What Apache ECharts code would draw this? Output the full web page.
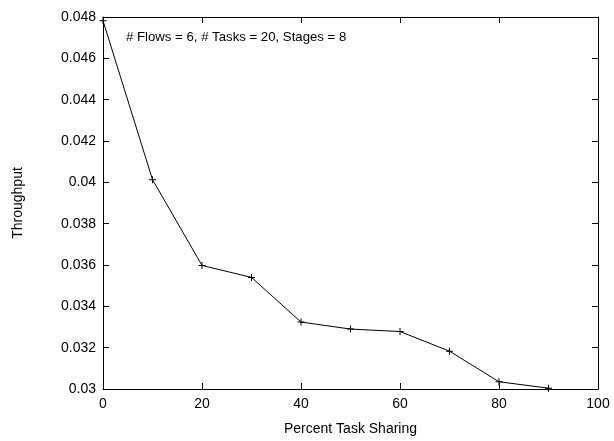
<!DOCTYPE html>
<html>
<head>
<meta charset="utf-8">
<script src="https://cdn.jsdelivr.net/npm/echarts@6/dist/echarts.min.js"></script>
<style>
  html, body { margin: 0; padding: 0; background: #fff; }
  #main { width: 614px; height: 441px; }
</style>
</head>
<body>
<div id="main"></div>
<script>
// 數據
const sharing = [0, 10, 20, 30, 40, 50, 60, 70, 80, 90];
const throughput = [0.04782, 0.04013, 0.03598, 0.03540, 0.03324, 0.03290, 0.03278, 0.03183, 0.03035, 0.03004];
const annotation = '# Flows = 6, # Tasks = 20, Stages = 8';

const myChart = echarts.init(document.getElementById('main'));
const font = 'Liberation Sans, Arial, sans-serif';
const plus = 'path://M3,0H4V3H7V4H4V7H3V4H0V3H3Z';

const baseX = {
    type: 'value', min: 0, max: 100, interval: 20,
    axisLine: { show: true, onZero: false, lineStyle: { color: '#000', width: 1 } },
    axisTick: { show: true, inside: true, length: 6, lineStyle: { color: '#000' } },
    splitLine: { show: false }
};
const baseY = {
    type: 'value', min: 0.03, max: 0.048, interval: 0.002,
    axisLine: { show: true, onZero: false, lineStyle: { color: '#000', width: 1 } },
    axisTick: { show: true, inside: true, length: 6, lineStyle: { color: '#000' } },
    splitLine: { show: false }
};

const option = {
    animation: false,
    backgroundColor: '#fff',
    textStyle: { fontFamily: font },
    grid: { left: 103, right: 16, top: 17, bottom: 50 },
    graphic: [{
        type: 'text', left: 126, top: 31,
        style: { text: annotation, font: '13.2px ' + font, fill: '#000' }
    }],
    xAxis: [
        Object.assign({}, baseX, {
            position: 'bottom',
            name: 'Percent Task Sharing', nameLocation: 'middle', nameGap: 33,
            nameTextStyle: { color: '#000', fontSize: 14, fontFamily: font },
            axisLabel: { color: '#000', fontSize: 14, margin: 8, fontFamily: font }
        }),
        Object.assign({}, baseX, { position: 'top', axisLabel: { show: false } })
    ],
    yAxis: [
        Object.assign({}, baseY, {
            position: 'left',
            name: 'Throughput', nameLocation: 'middle', nameGap: 78,
            nameTextStyle: { color: '#000', fontSize: 14, fontFamily: font },
            axisLabel: { color: '#000', fontSize: 14, margin: 7, fontFamily: font }
        }),
        Object.assign({}, baseY, { position: 'right', axisLabel: { show: false } })
    ],
    series: [{
        type: 'line',
        data: sharing.map((x, i) => [x, throughput[i]]),
        symbol: plus,
        symbolSize: 7,
        showAllSymbol: true,
        lineStyle: { color: '#000', width: 1 },
        itemStyle: { color: '#000' }
    }]
};

myChart.setOption(option);
</script>
</body>
</html>
